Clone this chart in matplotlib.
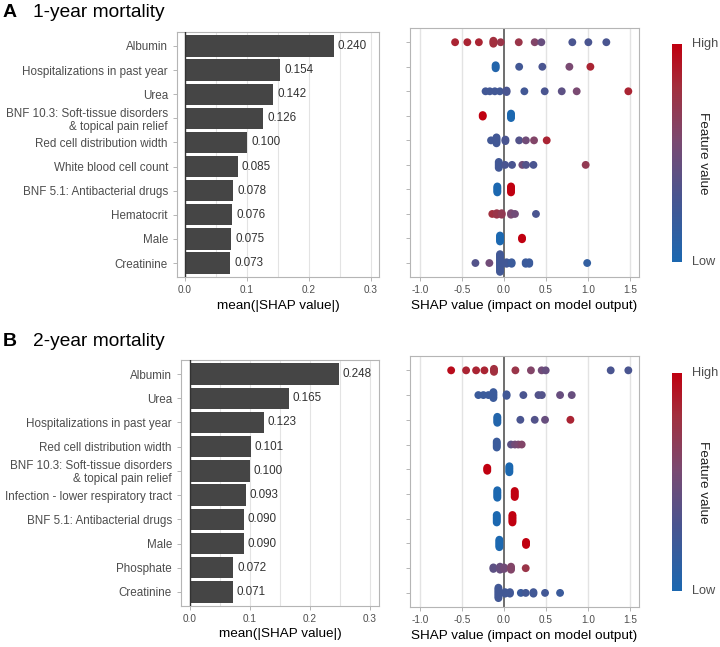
import matplotlib

matplotlib.use('Agg')
import matplotlib.pyplot as plt
import numpy as np
from matplotlib.colors import LinearSegmentedColormap

plt.rcParams['font.family'] = ['Liberation Sans', 'DejaVu Sans']

# --- data ---

features_1y = ['Albumin', 'Hospitalizations in past year', 'Urea',
               'BNF 10.3: Soft-tissue disorders\n& topical pain relief',
               'Red cell distribution width', 'White blood cell count',
               'BNF 5.1: Antibacterial drugs', 'Hematocrit', 'Male', 'Creatinine']
mean_shap_1y = [0.240, 0.154, 0.142, 0.126, 0.100, 0.085, 0.078, 0.076, 0.075, 0.073]

features_2y = ['Albumin', 'Urea', 'Hospitalizations in past year',
               'Red cell distribution width',
               'BNF 10.3: Soft-tissue disorders\n& topical pain relief',
               'Infection - lower respiratory tract', 'BNF 5.1: Antibacterial drugs',
               'Male', 'Phosphate', 'Creatinine']
mean_shap_2y = [0.248, 0.165, 0.123, 0.101, 0.100, 0.093, 0.090, 0.090, 0.072, 0.071]

# per feature: SHAP values, feature value (0 low .. 1 high), number of stacked points
shap_x_1y = [
    [-0.583, -0.437, -0.30, -0.127, -0.04, 0.175, 0.365, 0.444, 0.813, 1.004, 1.218],
    [-0.10, 0.18, 0.456, 0.778, 1.028],
    [-0.22, -0.17, -0.11, -0.05, 0.03, 0.242, 0.484, 0.687, 0.865, 1.48],
    [-0.254, 0.083],
    [-0.155, -0.09, 0.016, 0.18, 0.26, 0.357, 0.508],
    [-0.063, 0.012, 0.095, 0.218, 0.262, 0.35, 0.972],
    [-0.08, 0.083],
    [-0.14, -0.087, -0.028, 0.083, 0.13, 0.38],
    [-0.048, 0.214],
    [-0.341, -0.175, -0.048, 0.03, 0.09, 0.258, 0.30, 0.99],
]
shap_c_1y = [
    [0.85, 0.85, 0.85, 0.8, 0.75, 0.75, 0.6, 0.45, 0.3, 0.3, 0.3],
    [0.05, 0.25, 0.3, 0.55, 0.85],
    [0.25, 0.25, 0.25, 0.25, 0.3, 0.25, 0.3, 0.4, 0.55, 0.85],
    [1.0, 0.0],
    [0.25, 0.25, 0.3, 0.35, 0.5, 0.6, 0.85],
    [0.25, 0.3, 0.3, 0.5, 0.35, 0.3, 0.7],
    [0.0, 1.0],
    [0.8, 0.75, 0.7, 0.55, 0.5, 0.3],
    [0.0, 1.0],
    [0.35, 0.5, 0.25, 0.25, 0.2, 0.2, 0.2, 0.15],
]
shap_n_1y = [
    [1, 1, 1, 3, 1, 1, 1, 1, 1, 1, 1],
    [3, 1, 1, 1, 1],
    [1, 1, 1, 1, 2, 1, 1, 1, 1, 1],
    [2, 4],
    [1, 5, 2, 1, 1, 1, 1],
    [5, 1, 1, 1, 1, 1, 1],
    [5, 5],
    [1, 2, 2, 2, 1, 1],
    [5, 2],
    [1, 1, 13, 2, 2, 2, 2, 1],
]

shap_x_2y = [
    [-0.63, -0.452, -0.333, -0.234, -0.12, 0.135, 0.32, 0.448, 0.496, 1.27, 1.48],
    [-0.306, -0.246, -0.186, -0.127, 0.03, 0.23, 0.41, 0.45, 0.667, 0.806],
    [-0.08, 0.194, 0.365, 0.488, 0.79],
    [-0.087, 0.083, 0.13, 0.17, 0.21],
    [-0.20, 0.063],
    [-0.08, 0.127],
    [-0.087, 0.10],
    [-0.056, 0.262],
    [-0.127, -0.048, 0.0, 0.083, 0.258],
    [-0.067, 0.012, 0.07, 0.20, 0.258, 0.35, 0.488, 0.667],
]
shap_c_2y = [
    [0.95, 0.85, 0.85, 0.85, 0.8, 0.75, 0.6, 0.5, 0.45, 0.3, 0.3],
    [0.2, 0.2, 0.2, 0.2, 0.25, 0.3, 0.35, 0.35, 0.45, 0.45],
    [0.05, 0.3, 0.35, 0.45, 0.85],
    [0.2, 0.4, 0.5, 0.55, 0.6],
    [1.0, 0.0],
    [0.0, 1.0],
    [0.0, 1.0],
    [0.0, 1.0],
    [0.4, 0.45, 0.5, 0.6, 0.75],
    [0.25, 0.25, 0.25, 0.2, 0.25, 0.25, 0.25, 0.2],
]
shap_n_2y = [
    [1, 1, 1, 1, 3, 1, 1, 1, 1, 1, 1],
    [1, 1, 1, 5, 2, 1, 1, 1, 1, 1],
    [5, 1, 1, 1, 1],
    [5, 1, 1, 1, 1],
    [3, 5],
    [6, 5],
    [6, 6],
    [6, 3],
    [2, 3, 2, 3, 1],
    [8, 2, 2, 1, 1, 2, 1, 1],
]

W, H = 720, 647
# blue -> muted purple -> red, roughly what a Lab-space gradient gives
cmap = LinearSegmentedColormap.from_list(
    'shap', [(0.0, '#1c68b0'), (0.3, '#4a5590'), (0.55, '#7a4a72'),
             (0.8, '#a2303f'), (1.0, '#c00010')])
GRID = '#e3e3e3'
FRAME = '#b5b5b5'
TXT = '#4d4d4d'


def rect(left, top, right, bottom):
    """Pixel box (from top-left) -> figure fraction rectangle."""
    return [left / W, 1 - bottom / H, (right - left) / W, (bottom - top) / H]


def style_axes(ax):
    for s in ax.spines.values():
        s.set_color(FRAME)
        s.set_linewidth(0.8)
    ax.tick_params(colors=FRAME, length=3, width=0.7, labelcolor=TXT)
    ax.tick_params(axis='x', labelsize=7.2, pad=3)
    ax.set_axisbelow(True)


def bar_panel(box, features, values, xlim):
    ax = plt.gcf().add_axes(rect(*box))
    y = np.arange(len(features))
    for g in np.arange(0.05, 0.31, 0.05):
        ax.axvline(g, color=GRID, lw=0.8, zorder=0)
    ax.barh(y, values, height=0.88, color='#454545', zorder=2)
    ax.axvline(0, color='#333333', lw=1.0, zorder=3)
    for yi, v in zip(y, values):
        ax.text(v + 0.0065, yi, f'{v:.3f}', va='center', ha='left', fontsize=8.4,
                color='#333333')
    ax.set_yticks(y)
    ax.set_yticklabels(features, fontsize=8.4, linespacing=1.12)
    ax.set_ylim(len(features) - 0.42, -0.58)
    ax.set_xlim(*xlim)
    ax.set_xticks([0, 0.1, 0.2, 0.3])
    ax.set_xticklabels(['0.0', '0.1', '0.2', '0.3'])
    ax.set_xlabel('mean(|SHAP value|)', fontsize=9.7, labelpad=3)
    style_axes(ax)
    return ax


def swarm_panel(box, xs, cs, ns):
    ax = plt.gcf().add_axes(rect(*box))
    for g in [-1.0, -0.5, 0.5, 1.0, 1.5]:
        ax.axvline(g, color=GRID, lw=1.0, zorder=0)
    ax.axvline(0, color='#555555', lw=1.2, zorder=1)
    step = 0.06
    for row, (x, c, n) in enumerate(zip(xs, cs, ns)):
        px, py, pc = [], [], []
        for xi, ci, ni in zip(x, c, n):
            offs = (np.arange(ni) - (ni - 1) / 2) * step
            px += [xi] * ni
            py += list(row + offs)
            pc += [ci] * ni
        ax.scatter(px, py, c=pc, cmap=cmap, vmin=0, vmax=1, s=32, linewidths=0,
                   zorder=2)
    ax.set_yticks(np.arange(len(xs)))
    ax.set_yticklabels([])
    ax.set_ylim(len(xs) - 0.43, -0.58)
    ax.set_xlim(-1.12, 1.607)
    ax.set_xticks([-1.0, -0.5, 0.0, 0.5, 1.0, 1.5])
    ax.set_xticklabels(['-1.0', '-0.5', '0.0', '0.5', '1.0', '1.5'])
    ax.set_xlabel('SHAP value (impact on model output)', fontsize=9.7, labelpad=3)
    style_axes(ax)
    return ax


def colorbar(fig, top, bottom):
    cax = fig.add_axes(rect(672, top, 682, bottom))
    grad = np.linspace(1, 0, 256).reshape(-1, 1)
    cax.imshow(grad, cmap=cmap, aspect='auto', vmin=0, vmax=1)
    cax.axis('off')
    fig.text(692 / W, 1 - top / H, 'High', fontsize=9.2, color=TXT, va='center')
    fig.text(692 / W, 1 - bottom / H, 'Low', fontsize=9.2, color=TXT, va='center')
    fig.text(703 / W, 1 - (top + bottom) / 2 / H, 'Feature value', fontsize=9.7,
             color='#222222', rotation=270, va='center', ha='center')


fig = plt.figure(figsize=(7.2, 6.47), dpi=100)

fig.text(3 / W, 1 - 17 / H, 'A', fontsize=14, fontweight='bold', va='baseline')
fig.text(33 / W, 1 - 17 / H, '1-year mortality', fontsize=13.8, va='baseline')
fig.text(3 / W, 1 - 346 / H, 'B', fontsize=14, fontweight='bold', va='baseline')
fig.text(33 / W, 1 - 346 / H, '2-year mortality', fontsize=13.8, va='baseline')

bar_panel((177, 32, 379, 277), features_1y, mean_shap_1y, (-0.0129, 0.3129))
swarm_panel((410, 28, 639, 277), shap_x_1y, shap_c_1y, shap_n_1y)
colorbar(fig, 44, 262)

bar_panel((181, 360, 379, 606), features_2y, mean_shap_2y, (-0.015, 0.315))
swarm_panel((410, 356, 639, 607), shap_x_2y, shap_c_2y, shap_n_2y)
colorbar(fig, 373, 591)

fig.savefig('out.png', dpi=100)
